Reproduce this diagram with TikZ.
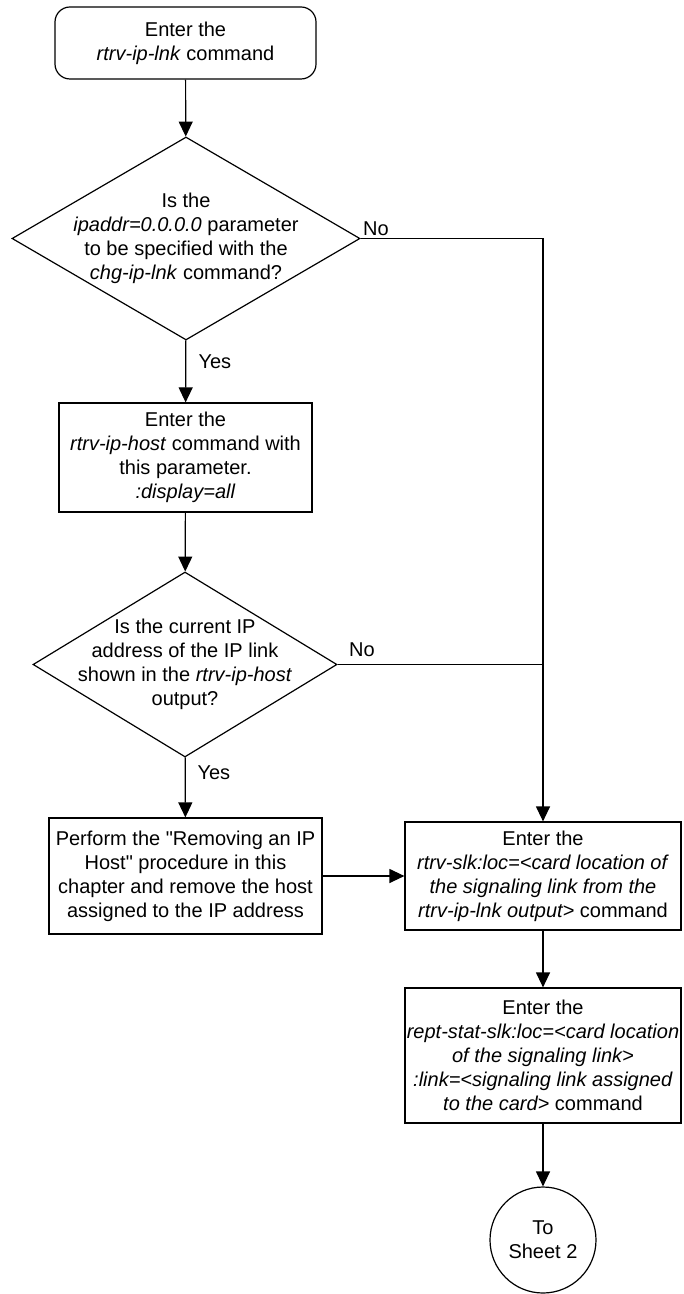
\documentclass[tikz,border=0pt]{standalone}
\usepackage{fontspec}
\setmainfont{Liberation Sans}[Ligatures=TeXOff]
\usetikzlibrary{positioning}
\usetikzlibrary{arrows.meta}
\usetikzlibrary{shapes}
\tikzset{
        flownode/.style={align=center,inner sep=0pt,draw=black,line width=0.6pt,font=\fontsize{10}{12}\selectfont},
        % Start node
        node_start/.style={flownode, rectangle, rounded corners=7.5pt, minimum width=130.5pt, minimum height=36pt},
        % Decision nodes
        node_decision/.style={flownode, diamond, aspect=1.7, inner sep=-6pt},
        % Process nodes
        node_process/.style={flownode, rectangle, minimum width=138pt},
        % Off-page connector
        node_sheet/.style={flownode, circle, minimum size=53pt},
        % Yes/No labels
        node_label/.style={inner sep=0pt, font=\fontsize{10}{12}\selectfont}
}

\begin{document}
\begin{tikzpicture}[
            ->,
            >={Triangle[length=7.5pt,width=7pt]},
            line width=0.6pt,
            x=0.5pt, y=-0.5pt
        ]
            \useasboundingbox (0,0) rectangle (684,1294);
            \node[node_start] (start) at (185.5,43) {Enter the\\\textit{rtrv-ip-lnk} command};
            \node[node_decision, minimum width=174pt, minimum height=101.5pt] (zeroaddr) at (186,238.5)
                {Is the\\\textit{ipaddr=0.0.0.0} parameter\\to be specified with the\\\textit{chg-ip-lnk} command?};
            \node[node_process, minimum width=126.5pt, minimum height=54.5pt] (iphost) at (185.5,457.5)
                {Enter the\\\textit{rtrv-ip-host} command with\\this parameter.\\\textit{:display=all}};
            \node[node_decision, minimum width=152pt, minimum height=92.5pt] (shown) at (185,664.5)
                {Is the current IP\\address of the IP link\\shown in the \textit{rtrv-ip-host}\\output?};
            \node[node_process, minimum width=136.5pt, minimum height=58pt] (removehost) at (185.5,876)
                {Perform the "Removing an IP\\Host" procedure in this\\chapter and remove the host\\assigned to the IP address};
            \node[node_process, minimum height=54pt] (rtrvslk) at (543,876)
                {Enter the\\\textit{rtrv-slk:loc=<card location of}\\\textit{the signaling link from the}\\\textit{rtrv-ip-lnk output>} command};
            \node[node_process, minimum height=67.5pt] (reptstat) at (543,1055.5)
                {Enter the\\\textit{rept-stat-slk:loc=<card location}\\\textit{of the signaling link>}\\\textit{:link=<signaling link assigned}\\\textit{to the card>} command};
            \node[node_sheet] (sheet2) at (543,1240) {To\\Sheet 2};

            \coordinate (nojoin1) at (543,238.5);
            \coordinate (nojoin2) at (543,664.5);

            \node[node_label, above right=1pt and 1pt of zeroaddr.east] (no1) {No};
            \node[node_label, below right=7pt and 6pt of zeroaddr.south] (yes1) {Yes};
            \node[node_label, above right=3.5pt and 5.5pt of shown.east] (no2) {No};
            \node[node_label, below right=4pt and 6pt of shown.south] (yes2) {Yes};

            \draw (start) -- (zeroaddr);
            \draw (zeroaddr) -- (iphost);
            \draw (iphost) -- (shown);
            \draw (shown) -- (removehost);
            \draw (removehost) -- (rtrvslk);
            \draw (zeroaddr.east) -- (nojoin1) -- (rtrvslk);
            \draw[-] (shown.east) -- (nojoin2);
            \draw (rtrvslk) -- (reptstat);
            \draw (reptstat) -- (sheet2);
        \end{tikzpicture}
\end{document}
